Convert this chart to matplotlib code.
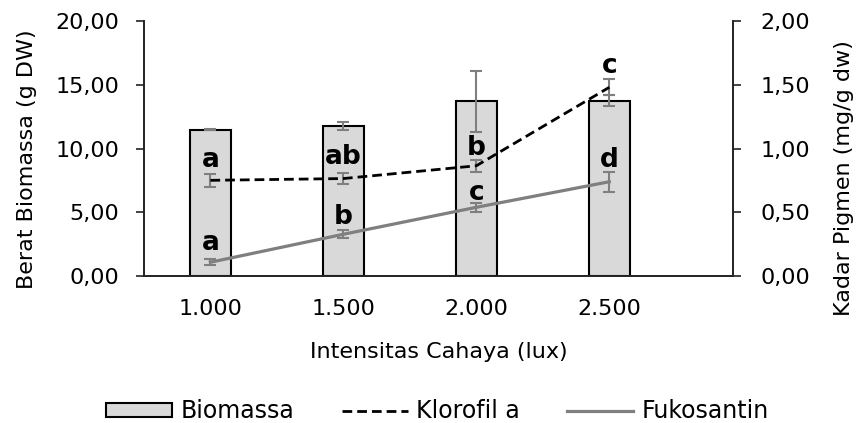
import numpy as np
import matplotlib.pyplot as plt

plt.rcParams['font.family'] = ['DejaVu Sans']

# data
intensitas = ['1.000', '1.500', '2.000', '2.500']
biomassa = [11.47, 11.78, 13.69, 13.74]
biomassa_err = [0.05, 0.30, 2.40, 0.45]
klorofil = [0.751, 0.765, 0.865, 1.479]
klorofil_err = [0.050, 0.040, 0.049, 0.063]
fukosantin = [0.110, 0.329, 0.540, 0.740]
fukosantin_err = [0.022, 0.033, 0.033, 0.078]
huruf_klorofil = ['a', 'ab', 'b', 'c']
huruf_fuko = ['a', 'b', 'c', 'd']

fig = plt.figure(figsize=(8.61, 4.23), dpi=100)
ax = fig.add_axes([0.1672, 0.3468, 0.6841, 0.6042])
ax2 = ax.twinx()

ind = np.arange(len(intensitas))
err_style = dict(ecolor='#7f7f7f', elinewidth=1.5, capsize=4, capthick=1.5)

ax.bar(ind, biomassa, 0.31, color='#d9d9d9', edgecolor='black', linewidth=1.5,
       label='Biomassa', zorder=2)
ax.errorbar(ind, biomassa, yerr=biomassa_err, fmt='none', zorder=3, **err_style)

ax2.errorbar(ind, klorofil, yerr=klorofil_err, fmt='none', zorder=3, **err_style)
ax2.plot(ind, klorofil, color='black', linestyle=(0, (3.5, 1.8)), linewidth=2,
         label='Klorofil a', zorder=4)
ax2.errorbar(ind, fukosantin, yerr=fukosantin_err, fmt='none', zorder=3, **err_style)
ax2.plot(ind, fukosantin, color='#7f7f7f', linewidth=2.3, label='Fukosantin', zorder=4)

# notasi huruf
y_huruf_k = [0.858, 0.876, 0.949, 1.593]
y_huruf_f = [0.206, 0.409, 0.597, 0.858]
for i in ind:
    ax2.text(i, y_huruf_k[i], huruf_klorofil[i], ha='center', va='baseline',
             fontsize=19, fontweight='bold', zorder=5)
    ax2.text(i, y_huruf_f[i], huruf_fuko[i], ha='center', va='baseline',
             fontsize=19, fontweight='bold', zorder=5)

ax.set_xlim(-0.5, 3.93)
ax.set_ylim(0, 20)
ax2.set_ylim(0, 2)
ax.set_yticks([0, 5, 10, 15, 20])
ax.set_yticklabels(['0,00', '5,00', '10,00', '15,00', '20,00'])
ax2.set_yticks([0, 0.5, 1, 1.5, 2])
ax2.set_yticklabels(['0,00', '0,50', '1,00', '1,50', '2,00'])
ax.set_xticks(ind)
ax.set_xticklabels(intensitas)

for a in (ax, ax2):
    a.spines['top'].set_visible(False)
    for s in a.spines.values():
        s.set_linewidth(1.2)
        s.set_color('#222222')
    a.tick_params(axis='y', labelsize=16, length=6, width=1.2, color='#222222')
ax.tick_params(axis='y', pad=12)
ax2.tick_params(axis='y', pad=14)
ax.tick_params(axis='x', labelsize=16, length=0, pad=16)

ax.set_ylabel('Berat Biomassa (g DW)', fontsize=16)
ax2.set_ylabel('Kadar Pigmen (mg/g dw)', fontsize=16)
ax.yaxis.set_label_coords(-0.182, 0.459)
ax2.yaxis.set_label_coords(1.172, 0.385)
ax.set_xlabel('Intensitas Cahaya (lux)', fontsize=16, labelpad=17)

h1, l1 = ax.get_legend_handles_labels()
h2, l2 = ax2.get_legend_handles_labels()
fig.legend(h1 + h2, l1 + l2, loc='center', bbox_to_anchor=(0.508, 0.028), ncol=3,
           frameon=False, fontsize=17, handlelength=2.8, handleheight=0.5,
           handletextpad=0.35, columnspacing=2.0)

fig.savefig('out.png', dpi=100)
